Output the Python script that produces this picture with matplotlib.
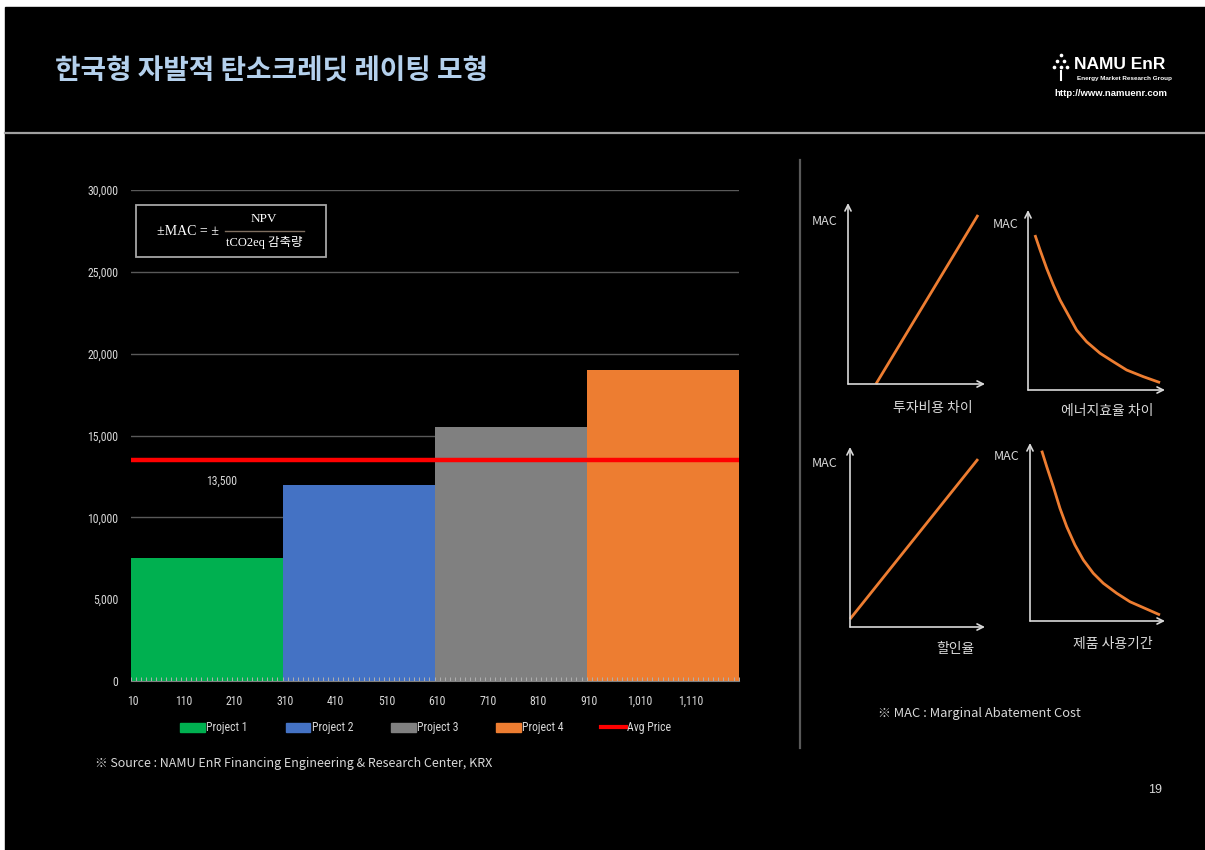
import numpy as np
import matplotlib
matplotlib.use("Agg")
import matplotlib.pyplot as plt
from matplotlib import font_manager
from matplotlib.patches import Rectangle, Patch
from matplotlib.lines import Line2D

W, H = 1205, 850

installed = {f.name for f in font_manager.fontManager.ttflist}
NARROW = next((f for f in ["Liberation Sans Narrow", "Roboto Condensed", "Open Sans Condensed", "Noto Sans"]
               if f in installed), "DejaVu Sans")
KR = ["Noto Sans CJK KR", "DejaVu Sans"]
SERIF_KR = ["Liberation Serif", "Noto Sans CJK KR"]

# ---- data ----
title = "한국형 자발적 탄소크레딧 레이팅 모형"
projects = ["Project 1", "Project 2", "Project 3", "Project 4"]
proj_start = [5, 305, 605, 905]
proj_end = [305, 605, 905, 1205]
mac_values = [7500, 12000, 15500, 19000]
proj_colors = ["#00b050", "#4472c4", "#808080", "#ed7d31"]
avg_price = 13500
avg_label = "13,500"
x_ticks = [10, 110, 210, 310, 410, 510, 610, 710, 810, 910, 1010, 1110]
x_labels = ["10", "110", "210", "310", "410", "510", "610", "710", "810", "910", "1,010", "1,110"]
y_ticks = [0, 5000, 10000, 15000, 20000, 25000, 30000]
y_labels = ["0", "5,000", "10,000", "15,000", "20,000", "25,000", "30,000"]

# schematic MAC curves (panel units 0-100)
cost_x = [20.4, 94.9]
cost_y = [0, 93.4]
eff_x = [5.1, 8.8, 13.6, 18.5, 23.4, 29.4, 35.5, 42.8, 52.6, 62.3, 72.0, 84.2, 96.4]
eff_y = [86.1, 77.8, 67.6, 58.3, 50.0, 41.7, 33.3, 26.8, 20.4, 15.7, 11.1, 7.4, 4.1]
rate_x = [0, 94.8]
rate_y = [4.4, 93.3]
life_x = [8.7, 12.4, 17.3, 22.2, 27.2, 33.3, 39.5, 46.9, 54.3, 64.2, 74.1, 85.2, 96.3]
life_y = [95.7, 86.7, 75.4, 63.3, 53.0, 42.7, 34.3, 26.8, 21.2, 15.6, 10.8, 7.1, 3.4]

TXT = "#d9d9d9"

fig = plt.figure(figsize=(W / 100, H / 100), dpi=100, facecolor="white")

# background / layout layer in pixel coordinates
bg = fig.add_axes([0, 0, 1, 1], zorder=0)
bg.set_xlim(0, W)
bg.set_ylim(H, 0)
bg.axis("off")
bg.add_patch(Rectangle((5, 7), W - 5, H - 7, color="black"))
bg.plot([5, W], [133, 133], color="#a0a0a0", lw=1.6)
bg.plot([800, 800], [160, 748], color="#595959", lw=1.6)

bg.text(55, 72, title, fontsize=20, fontweight="bold", color="#b4d0ec", family=KR, va="center", ha="left")

# logo
bg.scatter([1060.5, 1057, 1064, 1054, 1060.5, 1067], [55, 61, 61, 67, 67, 67], s=7, color="white", lw=0)
bg.plot([1060.5, 1060.5], [71, 80], color="white", lw=1.5)
bg.text(1074, 64, "NAMU EnR", fontsize=12.5, fontweight="bold", color="white", family="Liberation Sans", va="center")
bg.text(1077, 78, "Energy Market Research Group", fontsize=4.6, fontweight="bold", color="white",
        family="Liberation Sans", va="center")
bg.text(1167, 93, "http://www.namuenr.com", fontsize=6.8, fontweight="bold", color="white",
        family="Liberation Sans", va="center", ha="right")

bg.text(95, 763, "※ Source : NAMU EnR Financing Engineering & Research Center, KRX", fontsize=9,
        color=TXT, family=KR, va="center")
bg.text(1155, 790, "19", fontsize=9, color=TXT, family="Liberation Sans", va="center", ha="center")
bg.text(878, 713, "※ MAC : Marginal Abatement Cost", fontsize=9.3, color=TXT, family=KR, va="center")

# formula box
bg.add_patch(Rectangle((136, 205), 190, 52, fill=False, edgecolor="#a6a6a6", lw=1.3))
bg.text(188, 231, "±MAC = ±", fontsize=10, color="white", family=SERIF_KR, va="center", ha="center")
bg.plot([225, 304], [231, 231], color="#7f6f60", lw=1)
bg.text(264, 219, "NPV", fontsize=9.5, color="white", family=SERIF_KR, va="center", ha="center")
bg.text(264, 242, "tCO2eq 감축량", fontsize=9, color="white", family=SERIF_KR, va="center", ha="center")

# ---- main chart ----
ax = fig.add_axes([130.5 / W, 1 - 681 / H, (738.6 - 130.5) / W, (681 - 190) / H], zorder=1)
ax.set_facecolor("none")
widths = np.subtract(proj_end, proj_start)
ax.bar(proj_start, mac_values, width=widths, align="edge", color=proj_colors, zorder=2)
ax.axhline(avg_price, color="#ff0000", lw=3.2, zorder=3)
ax.annotate(avg_label, xy=(185, avg_price), xytext=(0, -15), textcoords="offset points",
            ha="center", va="center", fontsize=8.5, color=TXT, family=NARROW)

ax.set_xlim(5, 1205)
ax.set_ylim(0, 30000)
ax.set_xticks(x_ticks, x_labels)
ax.set_xticks(np.arange(5, 1206, 10), minor=True)
ax.set_yticks(y_ticks, y_labels)
ax.tick_params(axis="x", which="major", length=0, pad=10, labelsize=8.5, labelcolor=TXT)
ax.tick_params(axis="x", which="minor", direction="in", length=3, color="#b0b0b0", width=0.7)
ax.tick_params(axis="y", length=0, pad=9, labelsize=8.5, labelcolor=TXT)
for lab in ax.get_xticklabels() + ax.get_yticklabels():
    lab.set_family(NARROW)
ax.yaxis.grid(True, color="#595959", lw=1)
ax.set_axisbelow(True)
ax.xaxis.set_zorder(3)
for s in ["top", "left", "right"]:
    ax.spines[s].set_visible(False)
ax.spines["bottom"].set_color("#7f7f7f")
ax.spines["bottom"].set_zorder(4)

handles = [Patch(color=c, label=p) for p, c in zip(projects, proj_colors)]
handles.append(Line2D([], [], color="#ff0000", lw=3, label="Avg Price"))
fig.legend(handles=handles, loc="center", bbox_to_anchor=(426 / W, 1 - 728 / H), ncol=5, frameon=False,
           prop={"family": NARROW, "size": 8.5}, labelcolor=TXT, handlelength=2.1, handleheight=0.8,
           handletextpad=0.1, columnspacing=3.2)


# ---- schematic panels ----
def panel(left, origin_y, right, top, xs, ys, mac_xy, label, label_xy):
    a = fig.add_axes([left / W, 1 - origin_y / H, (right - left) / W, (origin_y - top) / H], zorder=1)
    a.set_xlim(0, 100)
    a.set_ylim(0, 100)
    a.axis("off")
    arrow = dict(arrowstyle="->", color=TXT, lw=1.2, shrinkA=0, shrinkB=0, mutation_scale=11)
    a.annotate("", xy=(100, 0), xytext=(0, 0), arrowprops=arrow, annotation_clip=False)
    a.annotate("", xy=(0, 100), xytext=(0, 0), arrowprops=arrow, annotation_clip=False)
    a.plot(xs, ys, color="#ed7d31", lw=2, clip_on=False, solid_capstyle="butt", solid_joinstyle="round")
    bg.text(mac_xy[0], mac_xy[1], "MAC", fontsize=9, color=TXT, family=KR, va="center", ha="center")
    bg.text(label_xy[0], label_xy[1], label, fontsize=10, color=TXT, family=KR, va="center", ha="center")


panel(848, 384, 985, 203, cost_x, cost_y, (825, 221), "투자비용 차이", (933, 408))
panel(1028, 390, 1165, 210, eff_x, eff_y, (1006, 224), "에너지효율 차이", (1107, 411))
panel(850, 627, 985, 447, rate_x, rate_y, (825, 463), "할인율", (955, 649))
panel(1030, 621, 1165, 443, life_x, life_y, (1007, 456), "제품 사용기간", (1113, 644))

fig.savefig("out.png", dpi=100, facecolor=fig.get_facecolor())
